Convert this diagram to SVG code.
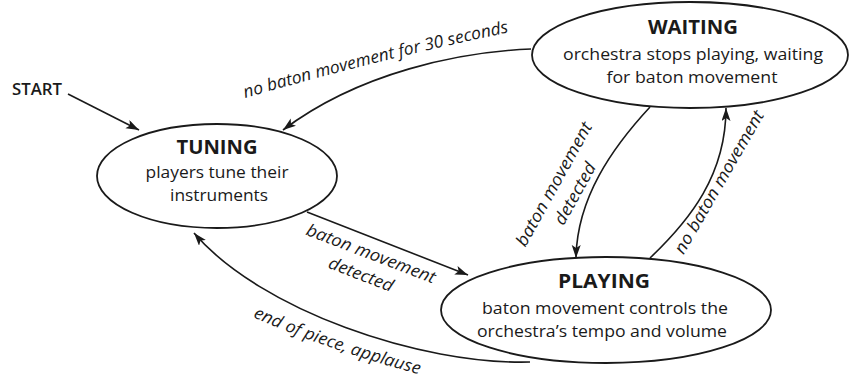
<svg xmlns="http://www.w3.org/2000/svg" width="851" height="383" viewBox="0 0 851 383">
<style>
.node ellipse{fill:#fff;stroke:#1a1a1a;stroke-width:1.8}
.title{font-family:"Open Sans","Noto Sans","Liberation Sans",sans-serif;font-weight:700;font-size:20px;fill:#1a1a1a;text-anchor:middle}
.body{font-family:"Open Sans","Noto Sans","Liberation Sans",sans-serif;font-size:17px;fill:#1a1a1a;text-anchor:middle}
.lbl{font-family:"Open Sans","Noto Sans","Liberation Sans",sans-serif;font-style:italic;font-size:17px;fill:#1a1a1a}
.edge{fill:none;stroke:#1a1a1a;stroke-width:1.6;marker-end:url(#ah)}
</style>
<defs>
<marker id="ah" markerWidth="14" markerHeight="10" refX="13" refY="4.5" orient="auto" markerUnits="userSpaceOnUse">
<path d="M0,0 L13,4.5 L0,9 L3,4.5 z" fill="#1a1a1a"/>
</marker>
<path id="p30" d="M245,98 Q380,59 515,31"/>
<path id="pend" d="M253,317 Q322,348 418,374"/>
</defs>

<g id="connectors">
<path class="edge" d="M68,94 L139,130"/>
<path class="edge" d="M531,49 C460,52 360,72 283,130"/>
<path class="edge" d="M307,212 L468,275"/>
<path class="edge" d="M530,362 C420,365 260,310 194,233"/>
<path class="edge" d="M650,107 C612,148 577,198 576,258"/>
<path class="edge" d="M650,258 C690,220 726,175 726,108"/>
<text class="lbl"><textPath href="#p30" textLength="272" lengthAdjust="spacingAndGlyphs">no baton movement for 30 seconds</textPath></text>
<text class="lbl"><textPath href="#pend" textLength="176" lengthAdjust="spacingAndGlyphs">end of piece, applause</textPath></text>
<g transform="translate(369,259) rotate(21)">
<text class="lbl" text-anchor="middle" x="0" y="0" textLength="137" lengthAdjust="spacingAndGlyphs">baton movement</text>
<text class="lbl" text-anchor="middle" x="-2" y="23" textLength="68" lengthAdjust="spacingAndGlyphs">detected</text>
</g>
<g transform="translate(559,187) rotate(-61)">
<text class="lbl" text-anchor="middle" x="0" y="0" textLength="139" lengthAdjust="spacingAndGlyphs">baton movement</text>
<text class="lbl" text-anchor="middle" x="2" y="23" textLength="68" lengthAdjust="spacingAndGlyphs">detected</text>
</g>
<g transform="translate(724,185) rotate(-60)">
<text class="lbl" text-anchor="middle" x="0" y="0" textLength="162" lengthAdjust="spacingAndGlyphs">no baton movement</text>
</g>
</g>

<g id="start">
<text x="12" y="95" font-family="'Open Sans','Noto Sans','Liberation Sans',sans-serif" font-weight="600" font-size="16" fill="#1a1a1a" textLength="50" lengthAdjust="spacingAndGlyphs">START</text>
</g>

<g id="tuning" class="node">
<ellipse cx="217" cy="176" rx="120" ry="52"/>
<text class="title" x="217" y="154" textLength="81" lengthAdjust="spacingAndGlyphs">TUNING</text>
<text class="body" x="217" y="178" textLength="143" lengthAdjust="spacingAndGlyphs">players tune their</text>
<text class="body" x="219" y="201" textLength="98" lengthAdjust="spacingAndGlyphs">instruments</text>
</g>

<g id="waiting" class="node">
<ellipse cx="690" cy="55" rx="158" ry="53"/>
<text class="title" x="693" y="34" textLength="90" lengthAdjust="spacingAndGlyphs">WAITING</text>
<text class="body" x="693" y="60" textLength="260" lengthAdjust="spacingAndGlyphs">orchestra stops playing, waiting</text>
<text class="body" x="692" y="83" textLength="171" lengthAdjust="spacingAndGlyphs">for baton movement</text>
</g>

<g id="playing" class="node">
<ellipse cx="606" cy="310" rx="165" ry="53"/>
<text class="title" x="604" y="288" textLength="92" lengthAdjust="spacingAndGlyphs">PLAYING</text>
<text class="body" x="605" y="314" textLength="246" lengthAdjust="spacingAndGlyphs">baton movement controls the</text>
<text class="body" x="602" y="337" textLength="250" lengthAdjust="spacingAndGlyphs">orchestra’s tempo and volume</text>
</g>
</svg>
